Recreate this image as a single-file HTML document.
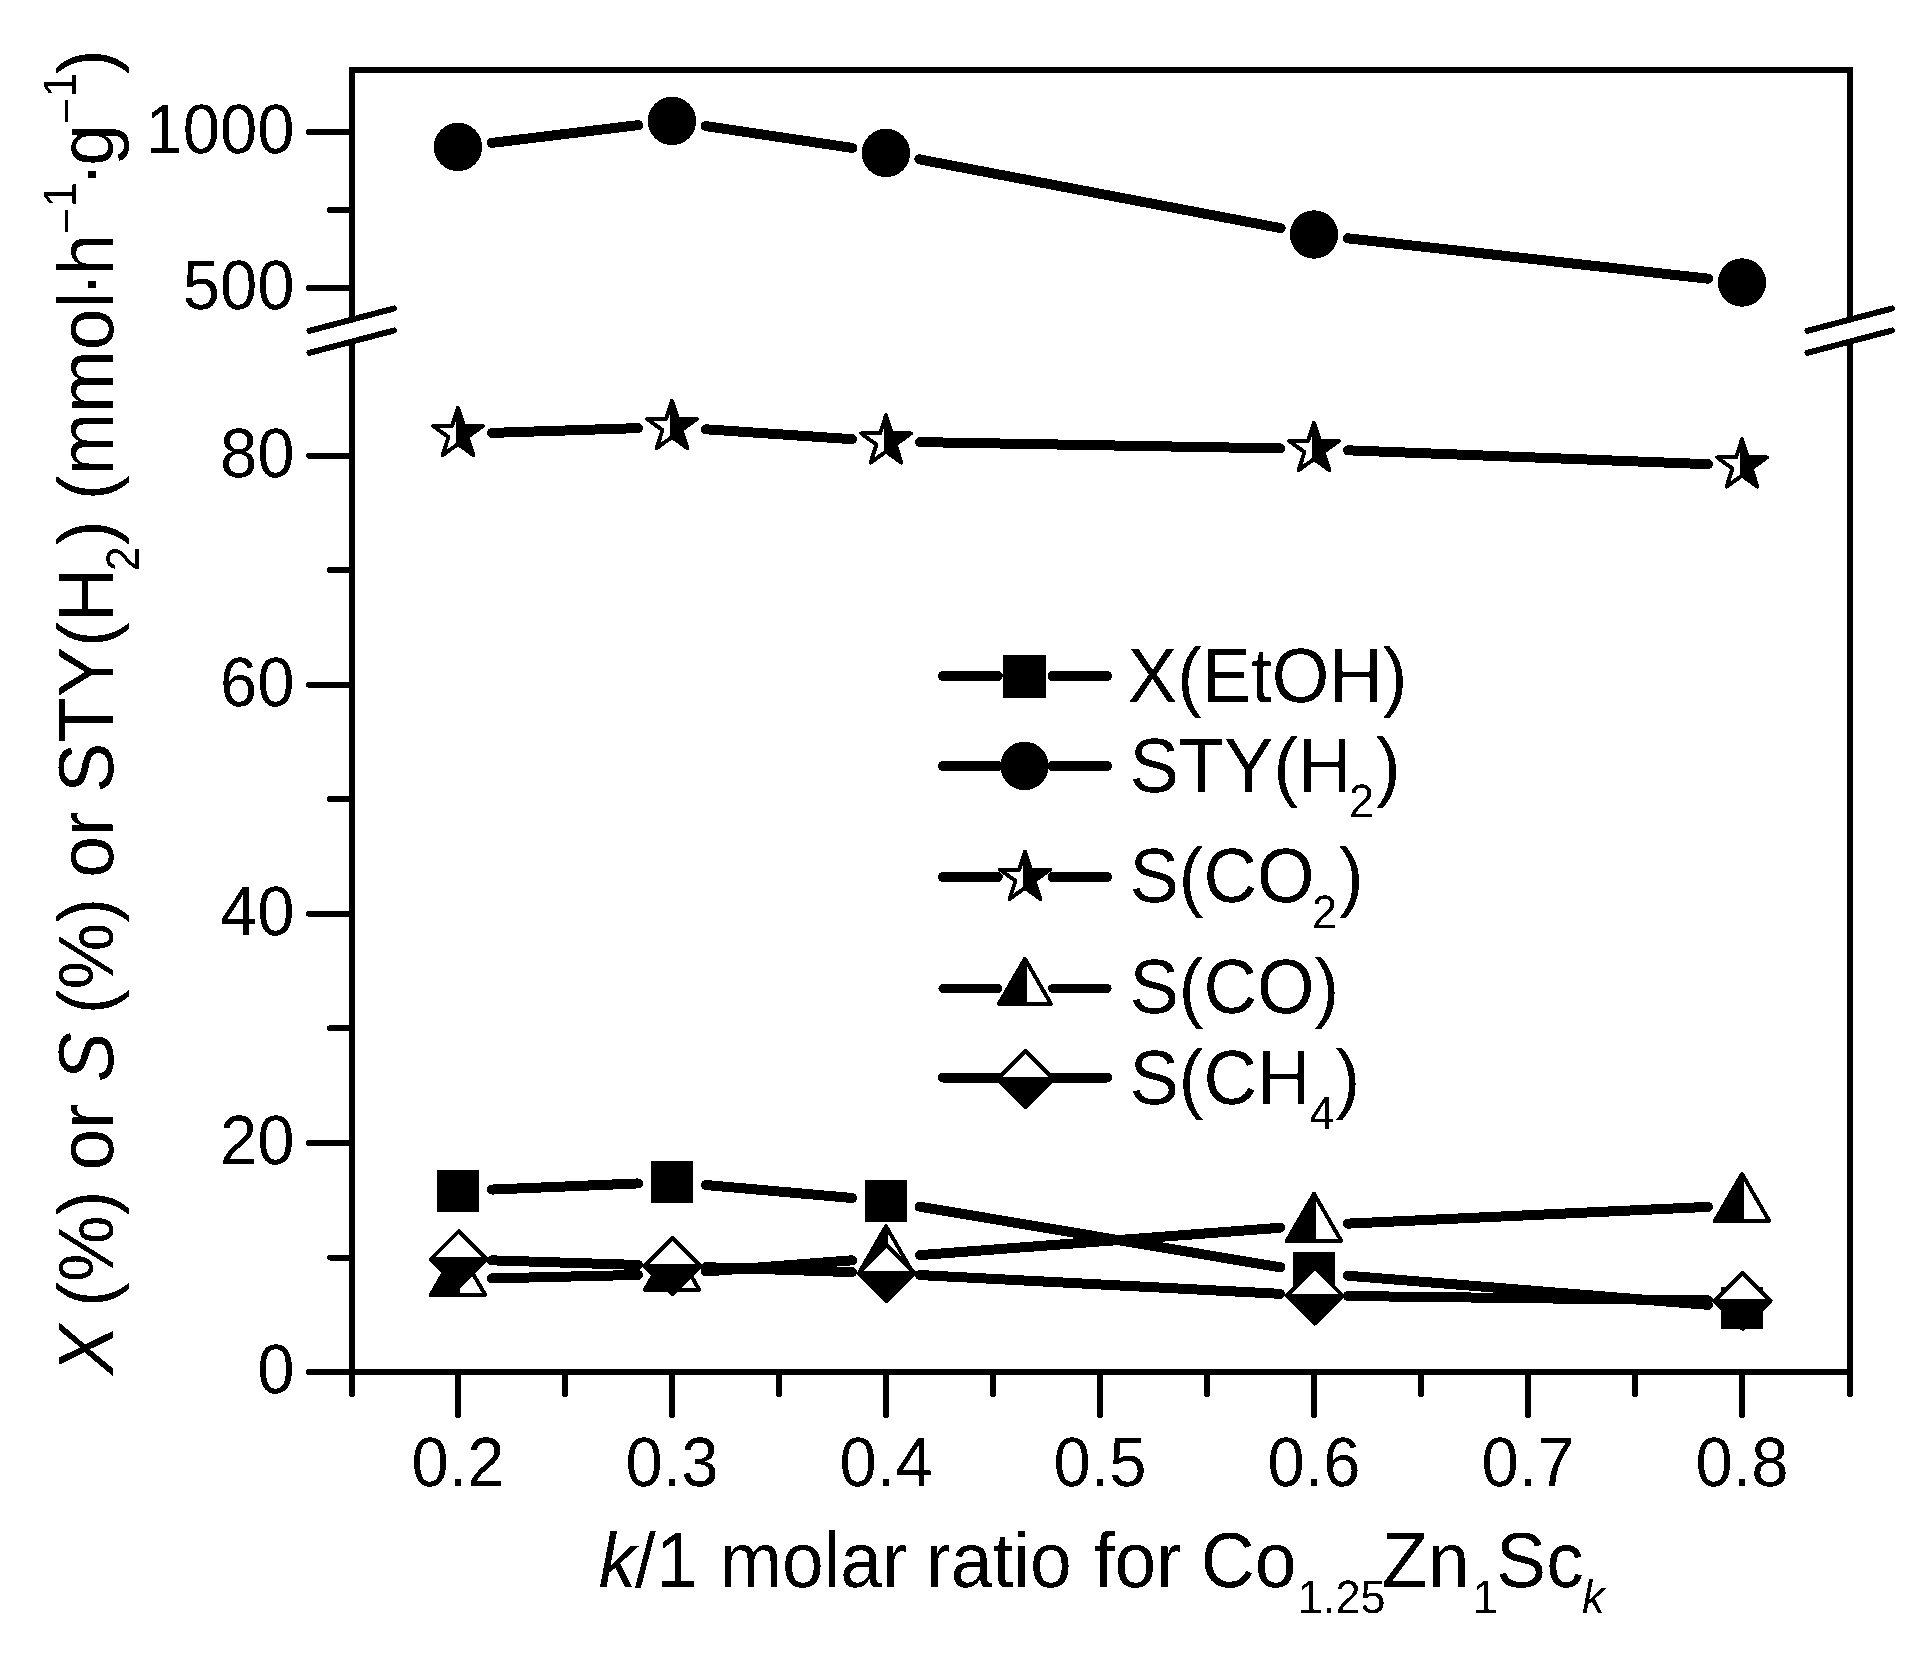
<!DOCTYPE html>
<html lang="en"><head><meta charset="utf-8"><title>Chart</title>
<style>
html,body{margin:0;padding:0;background:#fff;}
body{width:1924px;height:1656px;overflow:hidden;}
svg{display:block;}
text{font-family:"Liberation Sans",Arial,Helvetica,sans-serif;fill:#000;font-kerning:none;text-rendering:geometricPrecision;}
.tk{font-size:67px;}
.lg{font-size:75px;}
.ld{font-size:74px;}
.sb{font-size:45px;}
.ax{stroke:#000;stroke-width:6;fill:none;stroke-linecap:round;}
.fr{stroke:#000;stroke-width:6;fill:none;stroke-linecap:butt;stroke-linejoin:miter;}
.ln{stroke:#000;stroke-width:10;fill:none;stroke-linecap:round;}
.mo{fill:#fff;stroke:#000;stroke-width:4;stroke-linejoin:round;}
.mf{fill:#000;stroke:#000;stroke-width:4;stroke-linejoin:round;}
</style></head><body>
<svg width="1924" height="1656" viewBox="0 0 1924 1656" shape-rendering="crispEdges">
<defs><filter id="bw" x="-5%" y="-5%" width="110%" height="110%" color-interpolation-filters="sRGB"><feComponentTransfer><feFuncA type="discrete" tableValues="0 1"/></feComponentTransfer></filter></defs>
<rect x="0" y="0" width="1924" height="1656" fill="#fff"/>
<g id="frame">
<path class="fr" d="M352 319.5L352 70L1850 70L1850 319.5"/>
<path class="fr" d="M352 341.5L352 1372L1850 1372L1850 341.5"/>
<path class="ax" d="M309.5 330.8L394 308.5"/>
<path class="ax" d="M309.5 352.8L394 330.5"/>
<path class="ax" d="M1807.5 330.8L1892 308.5"/>
<path class="ax" d="M1807.5 352.8L1892 330.5"/>
</g>
<g id="ticks">
<path class="ax" d="M352 132L309 132M352 288L309 288M352 455.6L309 455.6M352 684.7L309 684.7M352 913.8L309 913.8M352 1142.9L309 1142.9M352 1372L309 1372M352 210L330 210M352 570.2L330 570.2M352 799.2L330 799.2M352 1028.3L330 1028.3M352 1257.5L330 1257.5M458 1372L458 1415M672 1372L672 1415M886 1372L886 1415M1100 1372L1100 1415M1314 1372L1314 1415M1528 1372L1528 1415M1742 1372L1742 1415M352 1372L352 1394M565 1372L565 1394M779 1372L779 1394M993 1372L993 1394M1207 1372L1207 1394M1421 1372L1421 1394M1635 1372L1635 1394M1850 1372L1850 1394"/>
</g>
<g id="ticklabels" filter="url(#bw)">
<text class="tk" transform="translate(294.5 153.3) scale(1 1.04)" text-anchor="end">1000</text>
<text class="tk" transform="translate(294.5 309.3) scale(1 1.04)" text-anchor="end">500</text>
<text class="tk" transform="translate(294.5 476.9) scale(1 1.04)" text-anchor="end">80</text>
<text class="tk" transform="translate(294.5 706) scale(1 1.04)" text-anchor="end">60</text>
<text class="tk" transform="translate(294.5 935.1) scale(1 1.04)" text-anchor="end">40</text>
<text class="tk" transform="translate(294.5 1164.2) scale(1 1.04)" text-anchor="end">20</text>
<text class="tk" transform="translate(294.5 1393.3) scale(1 1.04)" text-anchor="end">0</text>
<text class="tk" transform="translate(458 1485.7) scale(1 1.04)" text-anchor="middle">0.2</text>
<text class="tk" transform="translate(672 1485.7) scale(1 1.04)" text-anchor="middle">0.3</text>
<text class="tk" transform="translate(886 1485.7) scale(1 1.04)" text-anchor="middle">0.4</text>
<text class="tk" transform="translate(1100 1485.7) scale(1 1.04)" text-anchor="middle">0.5</text>
<text class="tk" transform="translate(1314 1485.7) scale(1 1.04)" text-anchor="middle">0.6</text>
<text class="tk" transform="translate(1528 1485.7) scale(1 1.04)" text-anchor="middle">0.7</text>
<text class="tk" transform="translate(1742 1485.7) scale(1 1.04)" text-anchor="middle">0.8</text>
</g>
<g id="series">
<g>
<path class="ln" d="M491.97 1189.57L638.03 1183.43M705.87 1185.01L852.13 1197.99M919.53 1206.64L1280.47 1267.36M1347.89 1275.74L1708.11 1304.86"/>
<rect x="436.9" y="1169.9" width="42.2" height="42.2" fill="#000"/>
<rect x="650.9" y="1160.9" width="42.2" height="42.2" fill="#000"/>
<rect x="864.9" y="1179.9" width="42.2" height="42.2" fill="#000"/>
<rect x="1292.9" y="1251.9" width="42.2" height="42.2" fill="#000"/>
<rect x="1720.9" y="1286.5" width="42.2" height="42.2" fill="#000"/>
</g>
<g>
<path class="ln" d="M491.75 142.9L638.25 125.1M705.63 126.03L852.37 147.97M919.4 159.36L1280.6 228.14M1347.79 238.29L1708.21 278.71"/>
<circle cx="458" cy="147" r="24.2" fill="#000"/>
<circle cx="672" cy="121" r="24.2" fill="#000"/>
<circle cx="886" cy="153" r="24.2" fill="#000"/>
<circle cx="1314" cy="234.5" r="24.2" fill="#000"/>
<circle cx="1742" cy="282.5" r="24.2" fill="#000"/>
</g>
<g>
<path class="ln" d="M491.98 432.89L638.02 428.11M705.92 429.3L852.08 439.2M919.99 442.1L1280.01 448.4M1347.97 450.31L1708.03 464.19"/>
<polygon class="mo" points="458,407.8 463.88,425.9 482.92,425.9 467.52,437.09 473.4,455.2 458,444.01 442.6,455.2 448.48,437.09 433.08,425.9 452.12,425.9"/><polygon class="mf" points="458,407.8 463.88,425.9 482.92,425.9 467.52,437.09 473.4,455.2 458,444.01"/>
<polygon class="mo" points="672,400.8 677.88,418.9 696.92,418.9 681.52,430.09 687.4,448.2 672,437.01 656.6,448.2 662.48,430.09 647.08,418.9 666.12,418.9"/><polygon class="mf" points="672,400.8 677.88,418.9 696.92,418.9 681.52,430.09 687.4,448.2 672,437.01"/>
<polygon class="mo" points="886,415.3 891.88,433.4 910.92,433.4 895.52,444.59 901.4,462.7 886,451.51 870.6,462.7 876.48,444.59 861.08,433.4 880.12,433.4"/><polygon class="mf" points="886,415.3 891.88,433.4 910.92,433.4 895.52,444.59 901.4,462.7 886,451.51"/>
<polygon class="mo" points="1314,422.8 1319.88,440.9 1338.92,440.9 1323.52,452.09 1329.4,470.2 1314,459.01 1298.6,470.2 1304.48,452.09 1289.08,440.9 1308.12,440.9"/><polygon class="mf" points="1314,422.8 1319.88,440.9 1338.92,440.9 1323.52,452.09 1329.4,470.2 1314,459.01"/>
<polygon class="mo" points="1742,439.3 1747.88,457.4 1766.92,457.4 1751.52,468.59 1757.4,486.7 1742,475.51 1726.6,486.7 1732.48,468.59 1717.08,457.4 1736.12,457.4"/><polygon class="mf" points="1742,439.3 1747.88,457.4 1766.92,457.4 1751.52,468.59 1757.4,486.7 1742,475.51"/>
</g>
<g>
<path class="ln" d="M491.99 1278.39L638.01 1274.91M705.9 1271.5L852.1 1260.3M919.9 1255.13L1280.1 1227.77M1347.96 1223.62L1708.04 1206.88"/>
<polygon class="mo" points="458,1247.73 485.25,1294.93 430.75,1294.93"/><polygon class="mf" points="458,1247.73 458,1294.93 430.75,1294.93"/>
<polygon class="mo" points="672,1242.63 699.25,1289.83 644.75,1289.83"/><polygon class="mf" points="672,1242.63 672,1289.83 644.75,1289.83"/>
<polygon class="mo" points="886,1226.23 913.25,1273.43 858.75,1273.43"/><polygon class="mf" points="886,1226.23 886,1273.43 858.75,1273.43"/>
<polygon class="mo" points="1314,1193.73 1341.25,1240.93 1286.75,1240.93"/><polygon class="mf" points="1314,1193.73 1314,1240.93 1286.75,1240.93"/>
<polygon class="mo" points="1742,1173.83 1769.25,1221.03 1714.75,1221.03"/><polygon class="mf" points="1742,1173.83 1742,1221.03 1714.75,1221.03"/>
</g>
<g>
<path class="ln" d="M491.98 1260.36L638.02 1264.94M705.98 1267.16L852.02 1272.14M919.95 1275.07L1280.05 1293.83M1348 1296.01L1708 1300.39"/>
<polygon class="mo" points="458.6,1231.3 486.6,1259.3 458.6,1287.3 430.6,1259.3"/><polygon class="mf" points="486.6,1259.3 458.6,1287.3 430.6,1259.3"/>
<polygon class="mo" points="672.6,1238 700.6,1266 672.6,1294 644.6,1266"/><polygon class="mf" points="700.6,1266 672.6,1294 644.6,1266"/>
<polygon class="mo" points="886.6,1245.3 914.6,1273.3 886.6,1301.3 858.6,1273.3"/><polygon class="mf" points="914.6,1273.3 886.6,1301.3 858.6,1273.3"/>
<polygon class="mo" points="1314.6,1267.6 1342.6,1295.6 1314.6,1323.6 1286.6,1295.6"/><polygon class="mf" points="1342.6,1295.6 1314.6,1323.6 1286.6,1295.6"/>
<polygon class="mo" points="1742.6,1272.8 1770.6,1300.8 1742.6,1328.8 1714.6,1300.8"/><polygon class="mf" points="1770.6,1300.8 1742.6,1328.8 1714.6,1300.8"/>
</g>
</g>
<g id="legend">
<path class="ln" d="M942.9 676L997.8 676M1052.5 676L1107.2 676"/>
<rect x="1003.1" y="654.8" width="43" height="43" fill="#000"/>
<g filter="url(#bw)"><text class="ld" transform="translate(1127.8 702) scale(1 1.04)" text-anchor="start">X(EtOH)</text></g>
<path class="ln" d="M942.9 766L997.8 766M1052.5 766L1107.2 766"/>
<circle cx="1024.5" cy="765.9" r="24.2" fill="#000"/>
<g filter="url(#bw)"><text class="ld" transform="translate(1129.5 791.6) scale(1 1.04)" text-anchor="start">STY(H<tspan class="sb" dy="24.52" dx="-2.4">2</tspan><tspan dy="-24.52" dx="1.8">)</tspan></text></g>
<path class="ln" d="M942.9 877L997.8 877M1052.5 877L1107.2 877"/>
<polygon class="mo" points="1025,851.6 1030.88,869.7 1049.92,869.7 1034.52,880.89 1040.4,899 1025,887.81 1009.6,899 1015.48,880.89 1000.08,869.7 1019.12,869.7"/><polygon class="mf" points="1025,851.6 1030.88,869.7 1049.92,869.7 1034.52,880.89 1040.4,899 1025,887.81"/>
<g filter="url(#bw)"><text class="ld" transform="translate(1129.5 902.4) scale(1 1.04)" text-anchor="start">S(CO<tspan class="sb" dy="24.52" dx="-2.4">2</tspan><tspan dy="-24.52" dx="1.8">)</tspan></text></g>
<path class="ln" style="stroke-width:9" d="M942.9 988.5L997.8 988.5M1052.5 988.5L1107.2 988.5"/>
<polygon class="mo" points="1024.9,958.78 1050.9,1003.81 998.9,1003.81"/><polygon class="mf" points="1024.9,958.78 1024.9,1003.81 998.9,1003.81"/>
<g filter="url(#bw)"><text class="ld" transform="translate(1129.5 1013.2) scale(1 1.04)" text-anchor="start">S(CO)</text></g>
<path class="ln" d="M942.9 1077.5L997.8 1077.5M1052.5 1077.5L1107.2 1077.5"/>
<polygon class="mo" points="1025.6,1050.9 1053.6,1078.9 1025.6,1106.9 997.6,1078.9"/><polygon class="mf" points="1053.6,1078.9 1025.6,1106.9 997.6,1078.9"/>
<g filter="url(#bw)"><text class="ld" transform="translate(1129.5 1103.8) scale(1 1.04)" text-anchor="start">S(CH<tspan class="sb" dy="24.52" dx="-1">4</tspan><tspan dy="-24.52" dx="1">)</tspan></text></g>
</g>
<g id="titles" filter="url(#bw)">
<text class="lg" transform="translate(0 1587.2) scale(1 1.04)"><tspan x="598.75" y="0" font-style="italic">k</tspan><tspan x="635.1" y="0">/1 </tspan><tspan x="719.46" y="0">molar </tspan><tspan x="925.74" y="0">ratio </tspan><tspan x="1093.68" y="0">for </tspan><tspan x="1200.63" y="0">Co</tspan><tspan x="1297.87" y="24.62" class="sb">1.25</tspan><tspan x="1381.93" y="0">Zn</tspan><tspan x="1472.67" y="24.62" class="sb">1</tspan><tspan x="1496.12" y="0">Sc</tspan><tspan x="1581.98" y="24.62" class="sb" font-style="italic">k</tspan></text>
<text class="lg" transform="translate(113 1378) rotate(-90) scale(1 1.04)"><tspan x="3.13" y="0" font-style="italic">X </tspan><tspan x="70.93" y="0">(%) </tspan><tspan x="207.55" y="0">or </tspan><tspan x="295.83" y="0" font-style="italic">S </tspan><tspan x="363.63" y="0">(%) </tspan><tspan x="500.15" y="0">or </tspan><tspan x="585.15" y="0">STY(H</tspan><tspan x="806.69" y="25" class="sb">2</tspan><tspan x="832.87" y="0">) </tspan><tspan x="877.83" y="0">(mmol</tspan><tspan x="1081.03" y="0">·</tspan><tspan x="1102.58" y="0">h</tspan><tspan x="1143.65" y="-30.29" class="sb">−</tspan><tspan x="1170.87" y="-35.58" class="sb">1</tspan><tspan x="1191.13" y="0">·</tspan><tspan x="1212.14" y="0">g</tspan><tspan x="1253.4" y="-30.29" class="sb">−</tspan><tspan x="1280.27" y="-35.58" class="sb">1</tspan><tspan x="1303.77" y="0">)</tspan></text>
</g>
</svg>
</body></html>
